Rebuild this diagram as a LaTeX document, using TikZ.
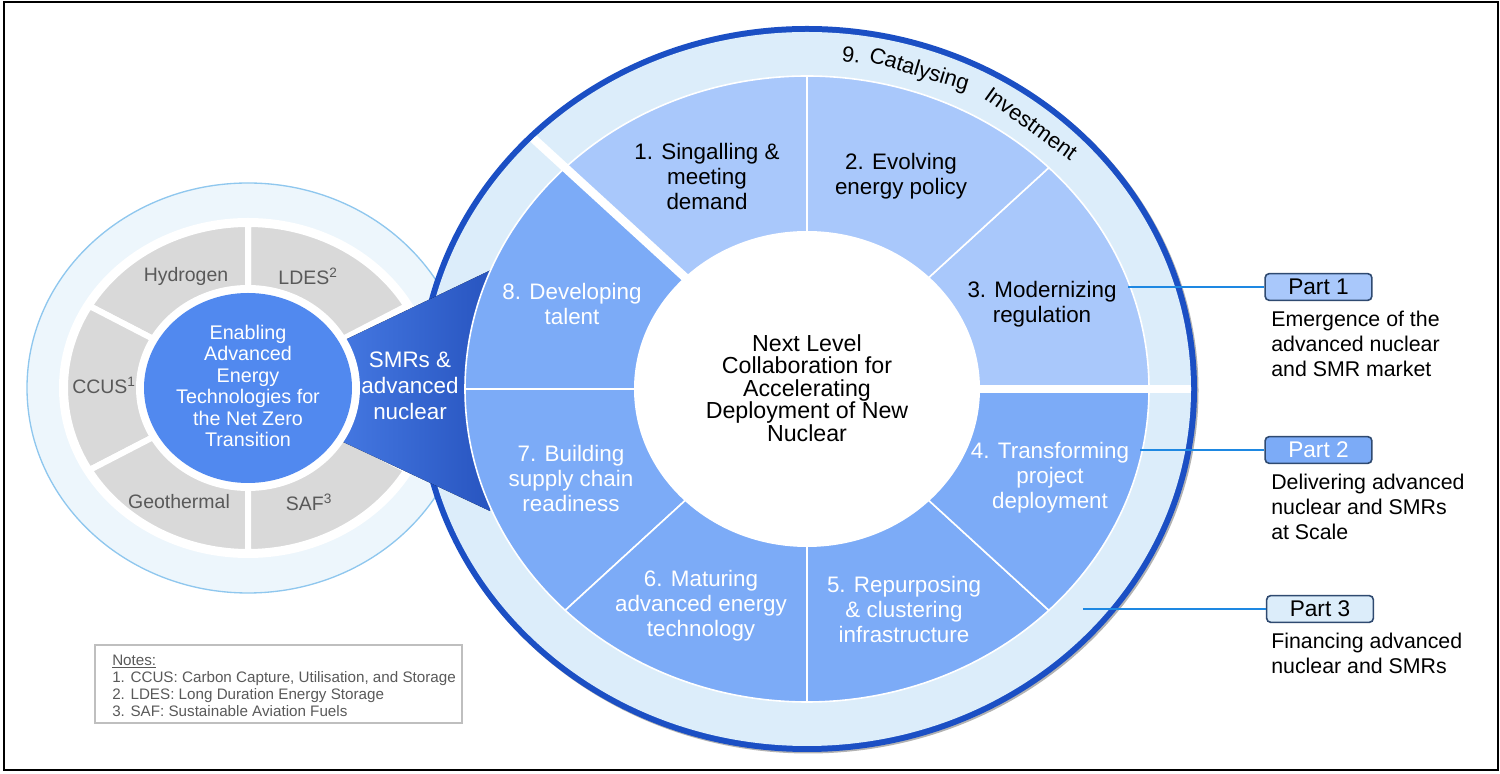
\documentclass[tikz,border=0pt]{standalone}
\usepackage{fontspec}
\setmainfont{Liberation Sans}

\definecolor{ringdark}{HTML}{1B4FC4}
\definecolor{ringlight}{HTML}{DCEDFA}
\definecolor{secone}{HTML}{A9C8FB}
\definecolor{sectwo}{HTML}{7CABF7}
\definecolor{enable}{HTML}{5189EF}
\definecolor{smrleft}{HTML}{4C81EA}
\definecolor{smrright}{HTML}{2855C0}
\definecolor{techgrey}{HTML}{D9D9D9}
\definecolor{greytext}{HTML}{595959}
\definecolor{halo}{HTML}{EDF6FC}
\definecolor{haloedge}{HTML}{8FC7EE}
\definecolor{wireblue}{HTML}{1E88E2}
\definecolor{partedge}{HTML}{2F4A70}
\definecolor{noteedge}{HTML}{BFBFBF}

\tikzset{ bt/.style = { text      = black
                      , align     = center
                      , inner sep = 0pt
                      , font      = \fontsize{16.8}{18.75}\selectfont
                      },
          wt/.style = { bt
                      , text = white
                      },
          gt/.style = { text      = greytext
                      , inner sep = 0pt
                      , font      = \fontsize{14.6}{16}\selectfont
                      },
          cnt/.style = { bt
                       , font = \fontsize{17.4}{16.8}\selectfont
                       },
          arcw/.style = { anchor    = base
                        , inner sep = 0pt
                        , font      = \fontsize{16.5}{18}\selectfont
                        },
          pbox/.style = { draw            = partedge
                        , line width      = 1.2pt
                        , rounded corners = 3pt
                        , minimum width   = 80pt
                        , minimum height  = 20pt
                        , inner sep       = 0pt
                        , font            = \fontsize{17}{19}\selectfont
                        },
          desc/.style = { anchor    = west
                        , align     = left
                        , inner sep = 0pt
                        , font      = \fontsize{16}{18.75}\selectfont
                        },
          wire/.style = { draw       = wireblue
                        , line width = 1.3pt
                        }
        }

\begin{document}
\begin{tikzpicture}[x=0.75pt, y=0.75pt]
    \useasboundingbox (0,0) rectangle (1500,774);
    \draw[line width=0.9pt] (4,4) rectangle (1498,772);
    \coordinate (C) at (807,385);
    \coordinate (L) at (248,386);

    % left wheel
    \filldraw[fill=halo, draw=haloedge, line width=1pt] (L) ellipse [x radius=221, y radius=205];
    \fill[white] (L) ellipse [x radius=189, y radius=170];
    \foreach \a in {30,90,150,210,270}
        \filldraw[fill=techgrey, draw=white, line width=4.5pt]
            (L) -- ++(\a:183 and 164) arc[start angle=\a, end angle=\a+60, x radius=183, y radius=164] -- cycle;

    % big wheel
    \fill[gray!60] (808.5,383.5) ellipse [x radius=390, y radius=363];
    \fill[ringdark] (C) ellipse [x radius=390, y radius=363];
    \fill[ringlight] (C) ellipse [x radius=384, y radius=357];

    \fill[left color=smrleft, right color=smrright]
        (300,412.5) -- (490,503.5) -- (490,263) -- (300,352.3) -- cycle;

    \foreach \a/\c in {0/secone, 45/secone, 90/secone, 135/sectwo, 180/sectwo, 225/sectwo, 270/sectwo, 315/sectwo}
        \filldraw[fill=\c, draw=white, line width=1.2pt]
            (C) -- ++(\a:342 and 313) arc[start angle=\a, end angle=\a+45, x radius=342, y radius=313] -- cycle;
    \begin{scope}
        \clip (C) ellipse [x radius=384, y radius=357];
        \draw[white, line width=6.5pt] (C) -- +(135:395 and 361.5);
        \draw[white, line width=6.5pt] (C) -- +(0:395 and 361.5);
    \end{scope}
    \fill[white] (C) ellipse [x radius=173, y radius=158];

    % ring label, one word at a time
    \node[arcw, rotate=-6.5] (r1) at (850.5,711.5) {9.};
    \node[arcw, rotate=-16.7] (r2) at (917.3,697.9) {Catalysing};
    \node[arcw, rotate=-35.8] (r3) at (1026.8,644.3) {Investment};

    \node[cnt] (core) at (807,386) {Next Level\\Collaboration for\\Accelerating\\Deployment of New\\Nuclear};
    \node[bt] (s1) at (707,597) {1. Singalling \&\\meeting\\demand};
    \node[bt] (s2) at (901,598) {2. Evolving\\energy policy};
    \node[bt] (s3) at (1042,470) {3. Modernizing\\regulation};
    \node[wt] (s4) at (1050,296) {4. Transforming\\project\\deployment};
    \node[wt] (s5) at (904,165) {5. Repurposing\\\& clustering\\infrastructure};
    \node[wt] (s6) at (701,168) {6. Maturing\\advanced energy\\technology};
    \node[wt] (s7) at (571,295) {7. Building\\supply chain\\readiness};
    \node[wt] (s8) at (572,470) {8. Developing\\talent};

    % left wheel centre
    \fill[white] (L) ellipse [x radius=112, y radius=103];
    \fill[enable] (L) ellipse [x radius=104, y radius=95];
    \node[wt, font=\fontsize{14.8}{16.1}\selectfont] (enab) at (248,388)
        {Enabling\\Advanced\\Energy\\Technologies for\\the Net Zero\\Transition};
    \node[wt, font=\fontsize{16.8}{19.5}\selectfont] (smr) at (410,388) {SMRs \&\\advanced\\nuclear};
    \node[gt] (hyd) at (186,498) {Hydrogen};
    \node[gt] (ldes) at (308,498) {LDES\textsuperscript{2}};
    \node[gt] (ccus) at (104,389) {CCUS\textsuperscript{1}};
    \node[gt] (geo) at (179,272) {Geothermal};
    \node[gt] (saf) at (309,272) {SAF\textsuperscript{3}};

    % parts
    \node[pbox, fill=secone] (p1) at (1318.5,487) {Part 1};
    \node[pbox, fill=sectwo, text=white] (p2) at (1318.5,324) {Part 2};
    \node[pbox, fill=ringlight] (p3) at (1320,165) {Part 3};
    \coordinate (a1) at (1128,487);
    \coordinate (a2) at (1140,324);
    \coordinate (a3) at (1083,165);
    \draw[wire] (a1) -- (p1.west);
    \draw[wire] (a2) -- (p2.west);
    \draw[wire] (a3) -- (p3.west);
    \node[desc] (d1) at (1271,430) {Emergence of the\\advanced nuclear\\and SMR market};
    \node[desc] (d2) at (1271,267) {Delivering advanced\\nuclear and SMRs\\at Scale};
    \node[desc] (d3) at (1271,120.5) {Financing advanced\\nuclear and SMRs};

    % notes
    \node[draw=noteedge, line width=1.2pt, minimum width=275pt, minimum height=58.5pt] (nbox) at (278.5,90) {};
    \node[desc, text=greytext, font=\fontsize{11.4}{12.75}\selectfont] (ntext) at (112,88.5)
        {\underline{Notes:}\\1. CCUS: Carbon Capture, Utilisation, and Storage\\2. LDES: Long Duration Energy Storage\\3. SAF: Sustainable Aviation Fuels};
\end{tikzpicture}
\end{document}
